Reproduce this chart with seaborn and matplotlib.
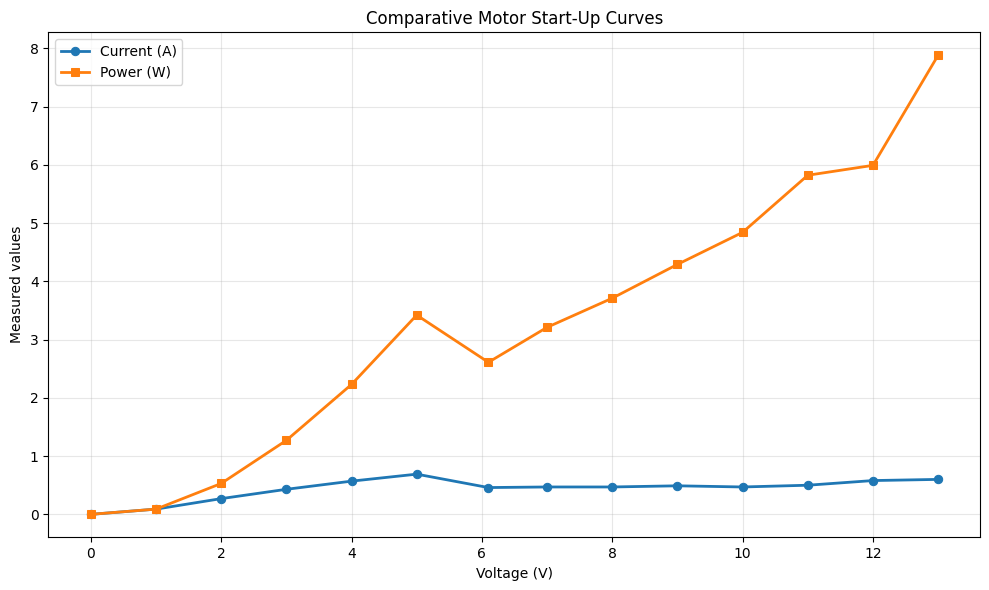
#!/usr/bin/env python3
import matplotlib
matplotlib.use("Agg")
import matplotlib.pyplot as plt
import seaborn as sns
import pandas as pd

# values
voltage = [0, 1, 2, 3, 4, 5, 6.1, 7, 8, 9, 10, 11, 12, 13]
current = [0.0, 0.09, 0.27, 0.43, 0.57, 0.69, 0.46, 0.47, 0.47, 0.49, 0.47, 0.50, 0.58, 0.60]
power = [0.0, 0.09, 0.53, 1.27, 2.23, 3.42, 2.61, 3.21, 3.71, 4.29, 4.84, 5.82, 5.99, 7.88]

TITLE = 'Comparative Motor Start-Up Curves'
XLABEL = 'Voltage (V)'
YLABEL = 'Measured values'


def main():
    df = pd.DataFrame({'voltage': voltage, 'current': current, 'power': power})

    fig, ax = plt.subplots(figsize=(9.89, 5.9), dpi=100)

    sns.lineplot(data=df, x='voltage', y='current', marker='o', markersize=6,
                 linewidth=2, color='#1f77b4', markeredgecolor='#1f77b4',
                 label='Current (A)', ax=ax)
    sns.lineplot(data=df, x='voltage', y='power', marker='s', markersize=6,
                 linewidth=2, color='#ff7f0e', markeredgecolor='#ff7f0e',
                 label='Power (W)', ax=ax)

    ax.set_title(TITLE)
    ax.set_xlabel(XLABEL)
    ax.set_ylabel(YLABEL)
    ax.grid(True, alpha=0.3)
    ax.legend(loc='upper left')

    # margins matched to the reference axes box
    fig.subplots_adjust(left=0.049, right=0.9914, top=0.9453, bottom=0.0893)
    fig.savefig('out.png')
    plt.close()


if __name__ == '__main__':
    main()
